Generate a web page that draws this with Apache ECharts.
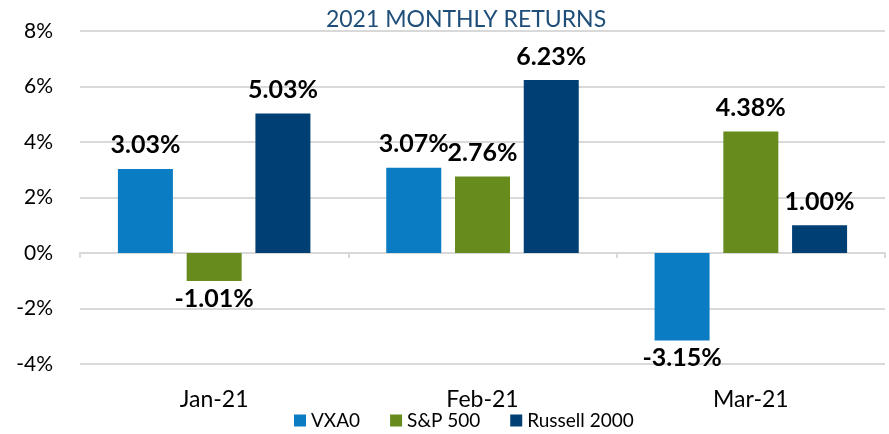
<!DOCTYPE html>
<html>
<head>
<meta charset="utf-8">
<script src="https://cdn.jsdelivr.net/npm/echarts@6/dist/echarts.min.js"></script>
<style>
  html, body { margin: 0; padding: 0; background: #fff; }
  #chart { width: 889px; height: 434px; }
</style>
</head>
<body>
<div id="chart"></div>
<script>
var months = ['Jan-21', 'Feb-21', 'Mar-21'];
var vxa0 = [3.03, 3.07, -3.15];
var sp500 = [-1.01, 2.76, 4.38];
var russell = [5.03, 6.23, 1.00];

var font = 'Lato';

function makeSeries(name, data, color) {
  return {
    name: name,
    type: 'bar',
    xAxisIndex: 0,
    barWidth: 55,
    barGap: '25%',
    itemStyle: { color: color },
    data: data.map(function (v) {
      return {
        value: v,
        label: {
          position: v >= 0 ? 'top' : 'bottom',
          distance: v >= 0 ? 11 : 5
        }
      };
    }),
    label: {
      show: true,
      fontFamily: font,
      fontWeight: 'bold',
      fontSize: 25,
      color: '#000',
      formatter: function (p) { return p.value.toFixed(2) + '%'; }
    }
  };
}

var chart = echarts.init(document.getElementById('chart'));
chart.setOption({
  animation: false,
  title: {
    text: '2021 MONTHLY RETURNS',
    left: 461,
    textAlign: 'center',
    top: 3,
    textStyle: { color: '#1f4e79', fontFamily: font, fontWeight: 'normal', fontSize: 23 }
  },
  legend: {
    bottom: -1,
    left: 289,
    itemWidth: 12,
    itemHeight: 12,
    itemGap: 30,
    icon: 'rect',
    textStyle: { color: '#000', fontFamily: font, fontSize: 19 },
    data: ['VXA0', 'S&P 500', 'Russell 2000']
  },
  grid: { left: 80, right: 4, top: 31, bottom: 70 },
  xAxis: [{
    type: 'category',
    data: months,
    position: 'bottom',
    axisLine: { show: false, onZero: false },
    axisTick: { show: false },
    axisLabel: { margin: 24, fontFamily: font, fontSize: 23, color: '#000' }
  }, {
    type: 'category',
    data: months,
    position: 'bottom',
    axisLine: { show: true, onZero: true, lineStyle: { color: '#d9d9d9', width: 2 } },
    axisTick: { show: true, length: 5, lineStyle: { color: '#d9d9d9', width: 2 } },
    axisLabel: { show: false }
  }],
  yAxis: {
    type: 'value',
    min: -4,
    max: 8,
    interval: 2,
    axisLine: { show: false },
    axisTick: { show: false },
    splitLine: { lineStyle: { color: '#d9d9d9', width: 2 } },
    axisLabel: {
      margin: 27,
      fontFamily: font,
      fontSize: 21,
      color: '#000',
      formatter: function (v) { return v + '%'; }
    }
  },
  series: [
    makeSeries('VXA0', vxa0, '#0a7cc3'),
    makeSeries('S&P 500', sp500, '#678b1d'),
    makeSeries('Russell 2000', russell, '#003f73')
  ]
});
</script>
</body>
</html>
